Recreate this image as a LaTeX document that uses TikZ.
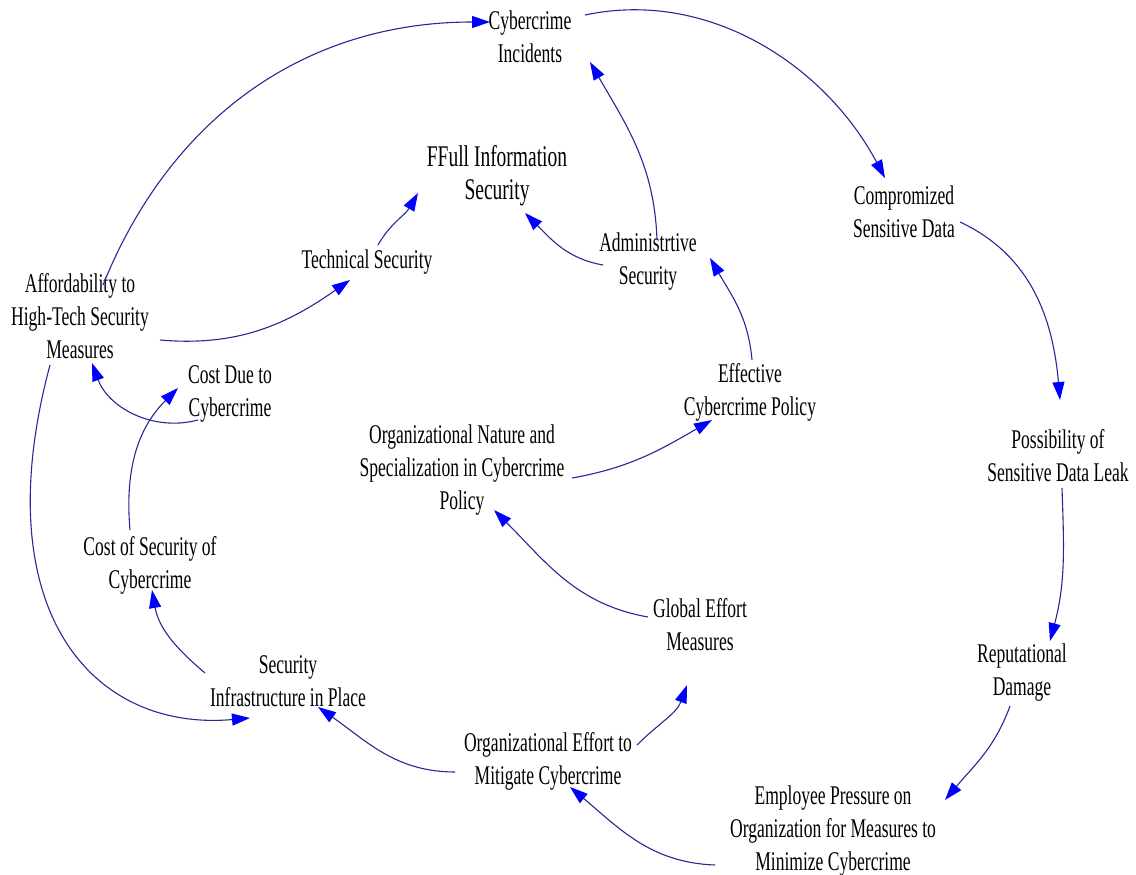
\documentclass[tikz,border=0pt]{standalone}
\usepackage{fontspec}
\setmainfont{Liberation Serif}[FakeStretch=0.65]
\usetikzlibrary{arrows.meta}
\definecolor{linkcol}{RGB}{40,40,150}
\definecolor{tipcol}{RGB}{0,0,255}
\tikzset{
  var/.style={align=center, inner sep=2pt, font=\fontsize{27}{33}\selectfont},
  bigvar/.style={align=center, inner sep=2pt, font=\fontsize{30}{33}\selectfont},
  link/.style={draw=linkcol, line width=1.1pt,
    -{Triangle[length=18pt, width=12pt, color=tipcol, fill=tipcol]}},
}
\begin{document}
\begin{tikzpicture}[x=1pt,y=1pt]
\useasboundingbox (0,0) rectangle (1136,-875);
\fill[white] (0,0) rectangle (1136,-875);

\node[var] (inc) at (530,-37) {Cybercrime\\Incidents};
\node[bigvar] (full) at (497,-176) {FFull Information\\Security};
\node[var] (tech) at (367,-262) {Technical Security};
\node[var] (adm) at (648,-262) {Administrtive\\Security};
\node[var] (comp) at (904,-212) {Compromized\\Sensitive Data};
\node[var] (aff) at (80,-316) {Affordability to\\High-Tech Security\\Measures};
\node[var] (costdue) at (230,-394) {Cost Due to\\Cybercrime};
\node[var] (eff) at (750,-392) {Effective\\Cybercrime Policy};
\node[var] (poss) at (1058,-456) {Possibility of\\Sensitive Data Leak};
\node[var] (orgnat) at (462,-470) {Organizational Nature and\\Specialization in Cybercrime\\Policy};
\node[var] (costsec) at (150,-565) {Cost of Security of\\Cybercrime};
\node[var] (glob) at (700,-625) {Global Effort\\Measures};
\node[var] (rep) at (1022,-673) {Reputational\\Damage};
\node[var] (infra) at (288,-681) {Security\\Infrastructure in Place};
\node[var] (orgeff) at (548,-761) {Organizational Effort to\\Mitigate Cybercrime};
\node[var] (emp) at (833,-831) {Employee Pressure on\\Organization for Measures to\\Minimize Cybercrime};

% connectors
\draw[link] ([shift={(23,31)}]aff.center) to[out=68,in=180,looseness=1] ([shift={(-40,15)}]inc.center);
\draw[link] ([shift={(55,22)}]inc.center) to[out=12,in=118,looseness=0.95] ([shift={(-19,34)}]comp.center);
\draw[link] ([shift={(9,22)}]adm.center) to[out=92,in=-60] ([shift={(60,-25)}]inc.center);
\draw[link] ([shift={(-45,-3)}]adm.center) to[out=170,in=-45] ([shift={(28,-37)}]full.center);
\draw[link] ([shift={(11,17)}]tech.center) to[out=60,in=-120] ([shift={(-79,-17)}]full.center);
\draw[link] ([shift={(80,-24)}]aff.center) to[out=-5,in=-145] ([shift={(-17,-18)}]tech.center);
\draw[link] ([shift={(2,32)}]eff.center) to[out=95,in=-60] ([shift={(62,4)}]adm.center);
\draw[link] ([shift={(110,-8)}]orgnat.center) to[out=10,in=-150] ([shift={(-38,-28)}]eff.center);
\draw[link] ([shift={(56,-10)}]comp.center) to[out=-25,in=95] ([shift={(2,56)}]poss.center);
\draw[link] ([shift={(4,-32)}]poss.center) to[out=-88,in=75] ([shift={(28,32)}]rep.center);
\draw[link] ([shift={(-12,-33)}]rep.center) to[out=-110,in=50] ([shift={(112,31)}]emp.center);
\draw[link] ([shift={(-118,-34)}]emp.center) to[out=178,in=-40] ([shift={(22,-26)}]orgeff.center);
\draw[link] ([shift={(89,16)}]orgeff.center) to[out=45,in=-110] ([shift={(-13,-60)}]glob.center);
\draw[link] ([shift={(-52,8)}]glob.center) to[out=170,in=-45] ([shift={(32,-40)}]orgnat.center);
\draw[link] ([shift={(-93,-11)}]orgeff.center) to[out=180,in=-35] ([shift={(30,-26)}]infra.center);
\draw[link] ([shift={(-83,8)}]infra.center) to[out=140,in=-80] ([shift={(2,-25)}]costsec.center);
\draw[link] ([shift={(-20,35)}]costsec.center) to[out=95,in=-135] ([shift={(-52,6)}]costdue.center);
\draw[link] ([shift={(-32,-26)}]costdue.center) to[out=195,in=-70] ([shift={(12,-47)}]aff.center);
\draw[link] ([shift={(-30,-49)}]aff.center) to[out=-105,in=185,out looseness=1.6,in looseness=1] ([shift={(-38,-37)}]infra.center);
\end{tikzpicture}
\end{document}
